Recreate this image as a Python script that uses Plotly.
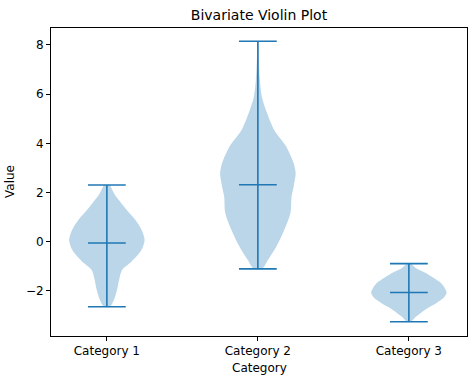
import plotly.graph_objects as go

categories = ["Category 1", "Category 2", "Category 3"]
positions = [1, 2, 3]

# density profiles: value levels and relative half-width (px, max ~37)
cat1_vals = [2.31, 1.9, 1.58, 1.22, 0.89, 0.49, 0.08, -0.24, -0.45, -0.81, -1.14, -1.54, -1.95, -2.35, -2.64]
cat1_dens = [3, 8, 14, 21, 28, 34, 37, 35, 32, 24, 15, 12, 10, 7, 3]
cat2_vals = [8.15, 7.38, 6.57, 5.88, 5.23, 4.54, 3.85, 3.2, 2.8, 2.23, 1.83, 1.18, 0.49, -0.2, -0.73, -1.1]
cat2_dens = [0.6, 1, 2, 4, 9, 16, 28, 35, 37, 35, 33, 32, 26, 18, 10, 4]
cat3_vals = [-0.89, -1.1, -1.26, -1.46, -1.66, -1.87, -2.07, -2.23, -2.35, -2.52, -2.68, -2.88, -3.04, -3.25]
cat3_dens = [2, 8, 16, 24, 31, 35, 37, 35, 32, 26, 19, 12, 7, 2]

mins = [-2.64, -1.1, -3.25]
maxs = [2.31, 8.15, -0.89]
means = [-0.05, 2.32, -2.06]

profiles = [(cat1_vals, cat1_dens), (cat2_vals, cat2_dens), (cat3_vals, cat3_dens)]

C0 = "#1f77b4"
fill = "rgba(31,119,180,0.3)"
half_width = 0.25
cap = 0.125

fig = go.Figure()
for pos, (vals, dens) in zip(positions, profiles):
    m = max(dens)
    hw = [d / m * half_width for d in dens]
    xs = [pos + h for h in hw] + [pos - h for h in reversed(hw)]
    ys = list(vals) + list(reversed(vals))
    fig.add_trace(go.Scatter(x=xs, y=ys, fill="toself", fillcolor=fill,
                             line=dict(width=0, shape="spline", smoothing=0.8),
                             mode="lines", showlegend=False))

for pos, lo, hi, mu in zip(positions, mins, maxs, means):
    xs = [pos, pos, None, pos - cap, pos + cap, None, pos - cap, pos + cap, None, pos - cap, pos + cap]
    ys = [lo, hi, None, lo, lo, None, hi, hi, None, mu, mu]
    fig.add_trace(go.Scatter(x=xs, y=ys, mode="lines", line=dict(color=C0, width=1.6),
                             showlegend=False))

font = "DejaVu Sans"
fs = 12
fig.update_layout(
    width=474, height=381,
    margin=dict(l=51, r=7, t=28, b=45, autoexpand=False),
    paper_bgcolor="white", plot_bgcolor="white",
    font=dict(family=font, size=fs, color="black"),
    title=dict(text="Bivariate Violin Plot", x=(51 + 467) / 2 / 474, xanchor="center",
               xref="container", y=1 - 15 / 381, yanchor="middle",
               font=dict(size=14, family=font, color="black")),
    showlegend=False,
    annotations=[
        dict(text="Category", xref="paper", yref="paper", x=0.5, y=-23 / 308,
             yanchor="top", xanchor="center", showarrow=False, font=dict(size=fs)),
        dict(text="Value", xref="paper", yref="paper", x=-50 / 416, y=0.5,
             yanchor="middle", xanchor="left", textangle=-90, showarrow=False,
             font=dict(size=fs)),
    ],
)
fig.update_xaxes(range=[0.63, 3.385], tickvals=positions, ticktext=categories,
                 showgrid=False, zeroline=False, showline=True, linecolor="black", linewidth=1,
                 mirror=True, ticks="outside", ticklen=4, tickcolor="black", automargin=False)
fig.update_yaxes(range=[-3.83, 8.69], tickvals=[-2, 0, 2, 4, 6, 8],
                 showgrid=False, zeroline=False, showline=True, linecolor="black", linewidth=1,
                 mirror=True, ticks="outside", ticklen=4, tickcolor="black", automargin=False)

fig.write_html("out.html", config={"displayModeBar": False},
               post_script="document.body.style.margin='0';")
